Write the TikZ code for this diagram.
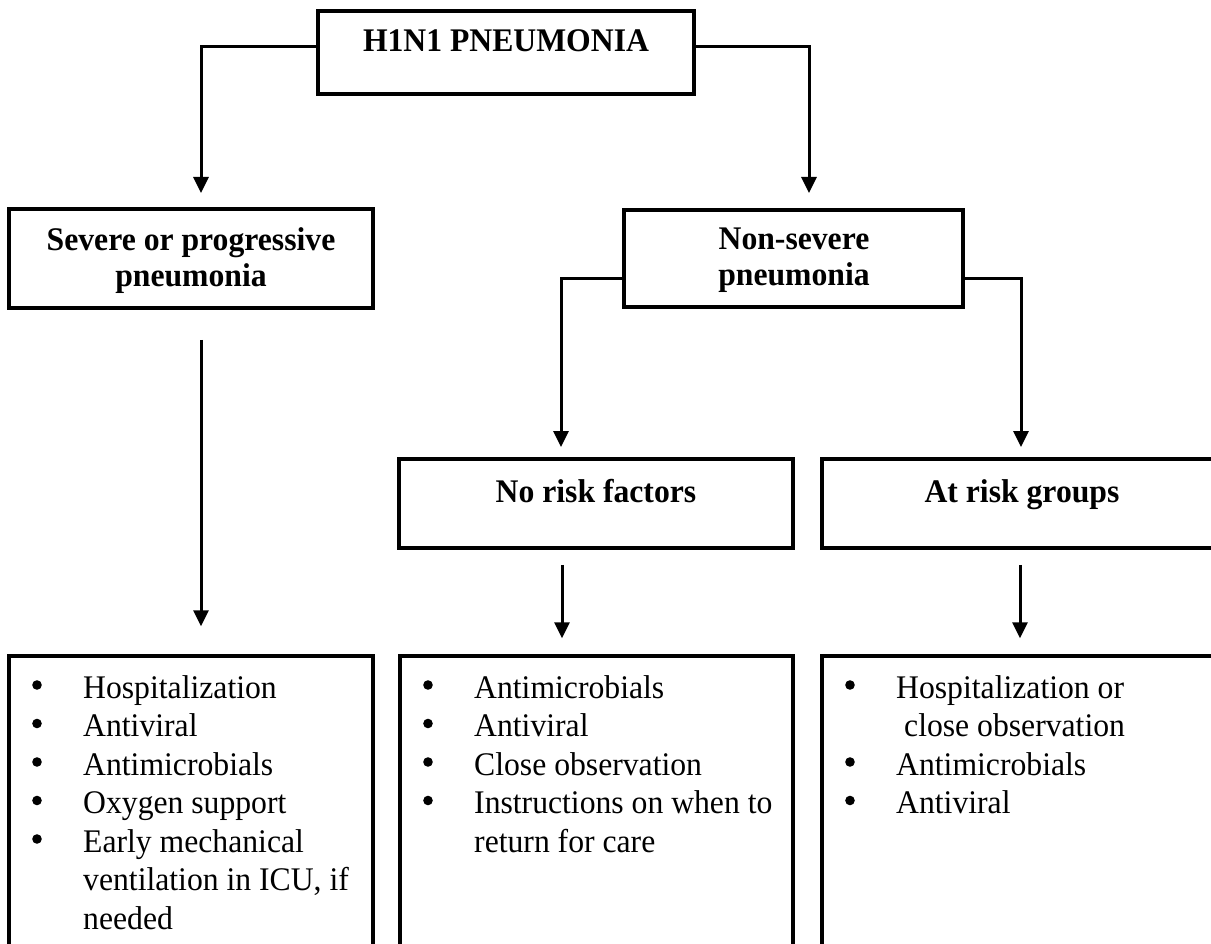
\documentclass[tikz,border=0pt]{standalone}
\usepackage{fontspec}
\setmainfont{Liberation Serif}[FakeStretch=0.96]
\usetikzlibrary{arrows.meta}
\begin{document}
\begin{tikzpicture}[x=1pt,y=-1pt,
  box/.style={draw,line width=3.5pt,rectangle,inner sep=0pt},
  conn/.style={line width=3pt,-{Triangle[width=15pt,length=16pt]}},
  head/.style={anchor=base,inner sep=0pt,font=\fontsize{33}{36}\selectfont\bfseries},
  body/.style={anchor=base west,inner sep=0pt,font=\fontsize{33}{38.5}\selectfont},
  bulletdot/.style={fill=black}]
\useasboundingbox (0,0) rectangle (1211,944);
\clip (0,0) rectangle (1211,944);
\fill[white] (0,0) rectangle (1211,944);

% boxes
\node[box,minimum width=376pt,minimum height=83pt] (top) at (506,52.5) {};
\node[box,minimum width=364pt,minimum height=99pt] (severe) at (191,258.5) {};
\node[box,minimum width=339pt,minimum height=97pt] (nonsev) at (793.5,258.5) {};
\node[box,minimum width=394pt,minimum height=89pt] (norisk) at (596,503.5) {};
\node[box,minimum width=418pt,minimum height=89pt] (atrisk) at (1031,503.5) {};
\node[box,minimum width=364pt,minimum height=324pt] (bl) at (191,818) {};
\node[box,minimum width=393pt,minimum height=324pt] (bm) at (596.5,818) {};
\node[box,minimum width=418pt,minimum height=324pt] (br) at (1031,818) {};

% headings
\node[head] (ttop) at (506,52) {H1N1 PNEUMONIA};
\node[head] (tsev) at (191,251) {\begin{tabular}[t]{@{}c@{}}Severe or progressive\\pneumonia\end{tabular}};
\node[head] (tnon) at (794,250) {\begin{tabular}[t]{@{}c@{}}Non-severe\\pneumonia\end{tabular}};
\node[head] (tnor) at (596,502) {No risk factors};
\node[head] (tat) at (1022,502) {At risk groups};

% lists
\node[body] (lleft) at (83,698) {\begin{tabular}[t]{@{}l@{}}
Hospitalization\\
Antiviral\\
Antimicrobials\\
Oxygen support\\
Early mechanical\\
ventilation in ICU, if\\
needed
\end{tabular}};
\node[body] (lmid) at (474,698) {\begin{tabular}[t]{@{}l@{}}
Antimicrobials\\
Antiviral\\
Close observation\\
Instructions on when to\\
return for care
\end{tabular}};
\node[body] (lright) at (896,698) {\begin{tabular}[t]{@{}l@{}}
Hospitalization or\\
\hspace*{8pt}close observation\\
Antimicrobials\\
Antiviral
\end{tabular}};

% bullets
\foreach \k in {0,...,4} \fill[bulletdot] (37,685+38.5*\k) circle (4.8pt);
\foreach \k in {0,...,3} \fill[bulletdot] (428,685+38.5*\k) circle (4.8pt);
\foreach \k in {0,2,3} \fill[bulletdot] (850,685+38.5*\k) circle (4.8pt);

% arrow tips
\coordinate (a1) at (201,193);
\coordinate (a2) at (809,193);
\coordinate (a3) at (561,447);
\coordinate (a4) at (1021,447);

% connectors
\draw[conn] ([yshift=5.5pt]top.west) -| (a1);
\draw[conn] ([yshift=5.5pt]top.east) -| (a2);
\draw[conn] ([yshift=-20.5pt]nonsev.west) -| (a3);
\draw[conn] ([yshift=-20.5pt]nonsev.east) -| (a4);
\draw[conn] ([xshift=10pt,yshift=-30pt]severe.south) -- ([xshift=10pt,yshift=28pt]bl.north);
\draw[conn] ([xshift=-34pt,yshift=-15pt]norisk.south) -- ([xshift=-34.5pt,yshift=16pt]bm.north);
\draw[conn] ([xshift=-11pt,yshift=-15pt]atrisk.south) -- ([xshift=-11pt,yshift=16pt]br.north);
\end{tikzpicture}
\end{document}
